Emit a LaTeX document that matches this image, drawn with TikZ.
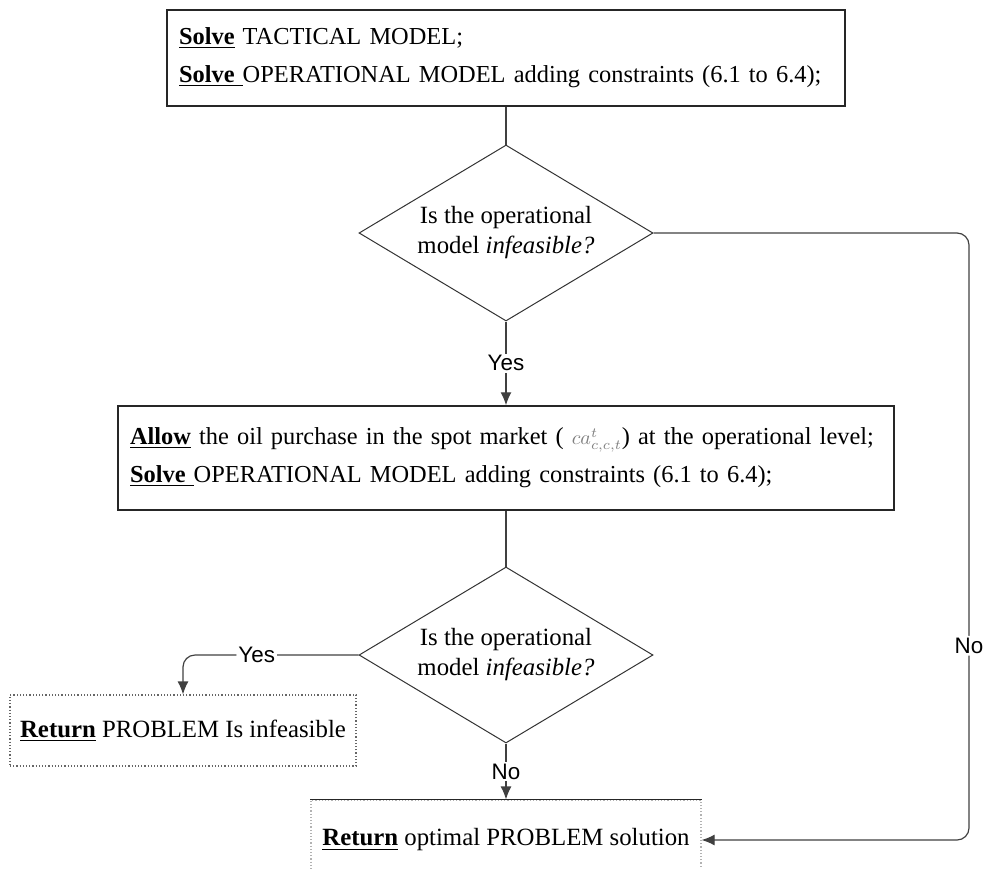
\documentclass[tikz,border=0pt]{standalone}
\usepackage{fontspec}
\setmainfont{Liberation Serif}
\setsansfont{Liberation Sans}
\usetikzlibrary{shapes.geometric,arrows.meta}

\tikzset{
  stepbox/.style={draw=black!85, line width=0.75pt, align=left, inner xsep=6pt, inner ysep=0pt,
    font=\fontsize{12.2}{19}\selectfont},
  decision/.style={diamond, draw=black!80, line width=0.5pt, aspect=1.67, inner sep=0pt,
    minimum width=147pt, minimum height=88pt, align=center, font=\fontsize{12.4}{15}\selectfont},
  returnbox/.style={draw=black!60, densely dotted, line width=0.6pt, align=center, inner sep=0pt,
    font=\fontsize{12.4}{15}\selectfont},
  flow/.style={draw=black!75, line width=0.6pt},
  answer/.style={fill=white, inner sep=1pt, font=\sffamily\fontsize{11.2}{13}\selectfont},
}
\newcommand{\keyword}[1]{\underline{\textbf{#1}}}

\begin{document}
\begin{tikzpicture}[x=0.5pt, y=-0.5pt, >={Latex[length=6.5pt,width=5.5pt]}]
  \useasboundingbox (0,0) rectangle (984,868);
  \clip (0,0) rectangle (984,868);
  % tactical and operational run
  \node[stepbox, text width=327pt, minimum height=48pt] (tactical) at (506,58)
    {\keyword{Solve} TACTICAL MODEL;\\\keyword{Solve\ }OPERATIONAL MODEL adding constraints (6.1 to 6.4);};
  \node[decision] (check1) at (506,233) {Is the operational\\model \textit{infeasible?}};
  % spot market run
  \node[stepbox, text width=376pt, minimum height=52pt] (spotbox) at (506,458)
    {\keyword{Allow} the oil purchase in the spot market ( \textcolor{gray}{\fontsize{10}{10}\selectfont$ca^{t}_{c,c,t}$}) at the operational level;\\\keyword{Solve\ }OPERATIONAL MODEL adding constraints (6.1 to 6.4);};
  \node[decision] (check2) at (506,655) {Is the operational\\model \textit{infeasible?}};
  % results
  \node[returnbox, minimum width=173pt, minimum height=35.5pt] (infeasible) at (183,730.5)
    {\keyword{Return} PROBLEM Is infeasible};
  \node[returnbox, draw=gray!60, minimum width=195pt, minimum height=40pt] (optimal) at (506,840)
    {\keyword{Return} optimal PROBLEM solution};
  \draw[line width=0.75pt, black!85] (optimal.north west) -- (optimal.north east);
  \coordinate (loopback) at (969,840);
  % connectors
  \draw[flow] (tactical) -- (check1);
  \draw[flow, ->] (check1) -- node[answer] {Yes} (spotbox);
  \draw[flow, ->, rounded corners=6pt] (check1.east) -| node[answer, pos=0.84] {No} (loopback) -- (optimal.east);
  \draw[flow] (spotbox) -- (check2);
  \draw[flow, ->, rounded corners=6pt] (check2.west) -| node[answer, pos=0.29] {Yes} (infeasible.north);
  \draw[flow, ->] (check2) -- node[answer] {No} (optimal);
\end{tikzpicture}
\end{document}
